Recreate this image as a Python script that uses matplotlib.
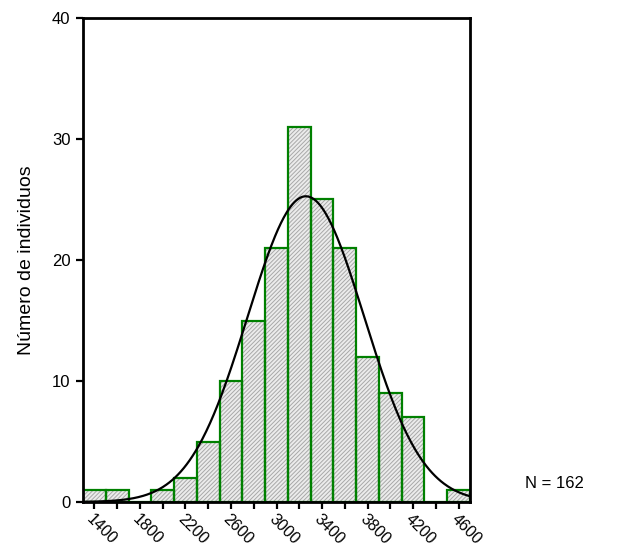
import numpy as np
import matplotlib
matplotlib.use("Agg")
import matplotlib.pyplot as plt
import matplotlib.transforms as mtransforms

plt.rcParams['font.family'] = ['Liberation Sans', 'DejaVu Sans']
plt.rcParams['hatch.linewidth'] = 0.7

bin_centers = [1400, 1600, 1800, 2000, 2200, 2400, 2600, 2800, 3000,
               3200, 3400, 3600, 3800, 4000, 4200, 4400, 4600]
counts = [1, 1, 0, 1, 2, 5, 10, 15, 21, 31, 25, 21, 12, 9, 7, 0, 1]
bin_width = 200
xtick_labels = ['1400', '1800', '2200', '2600', '3000', '3400', '3800', '4200', '4600']
yticks = [0, 10, 20, 30, 40]
n_label = "N = 162"

fig = plt.figure(figsize=(6.25, 5.47), dpi=100)
ax = fig.add_axes([83/625, 1-502/547, (470-83)/625, (502-18)/547])

c = np.array(bin_centers, dtype=float)
k = np.array(counts, dtype=float)
N = k.sum()
mean = (c*k).sum()/N
sd = np.sqrt((k*(c-mean)**2).sum()/(N-1))

# hatched fill (grey hatch)
ax.bar(c, k, width=bin_width, facecolor='#ececec', edgecolor='#a8a8a8',
       linewidth=0, hatch='////////', zorder=2)
# green outlines
ax.bar(c, k, width=bin_width, facecolor='none', edgecolor='#008000',
       linewidth=1.6, zorder=2.5)

xs = np.linspace(1300, 4700, 400)
ys = N*bin_width/(sd*np.sqrt(2*np.pi))*np.exp(-0.5*((xs-mean)/sd)**2)
ax.plot(xs, ys, color='black', linewidth=1.6, zorder=3)

ax.set_xlim(1300, 4700)
ax.set_ylim(0, 40)
ax.set_xticks(bin_centers)
ax.set_xticklabels([str(b) if str(b) in xtick_labels else '' for b in bin_centers],
                   rotation=-45, ha='left', va='top', rotation_mode='anchor',
                   fontsize=11.5)
offset = mtransforms.ScaledTranslation(5/100, 0, fig.dpi_scale_trans)
for lab in ax.get_xticklabels():
    lab.set_transform(lab.get_transform() + offset)
ax.set_yticks(yticks)
ax.set_yticklabels([str(v) for v in yticks], fontsize=12)
ax.tick_params(axis='both', direction='out', length=5, width=1.6, colors='black')
ax.tick_params(axis='x', pad=2)
ax.tick_params(axis='y', pad=4)
for s in ax.spines.values():
    s.set_linewidth(2.0)
    s.set_color('black')

ax.set_ylabel('Número de individuos', fontsize=14, labelpad=12)
fig.text(525/625, 1-483/547, n_label, fontsize=12, va='center', ha='left')

fig.savefig('out.png', dpi=100)
